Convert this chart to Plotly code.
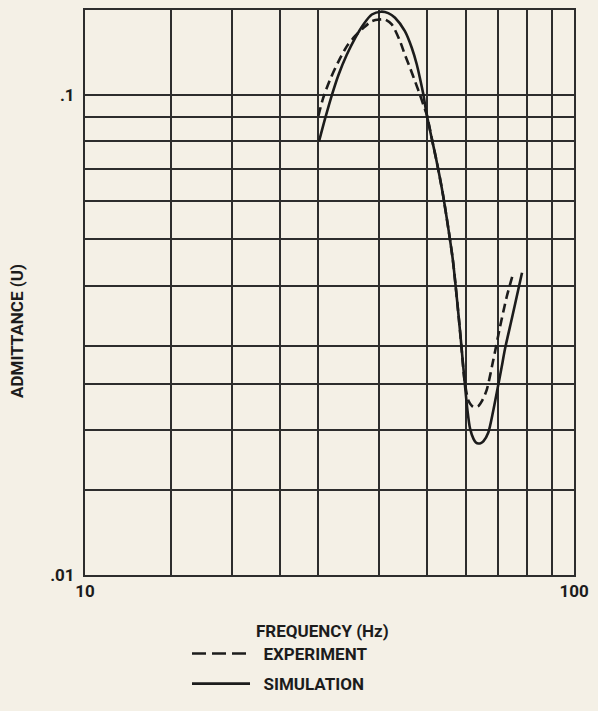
import math
import plotly.graph_objects as go

# Admittance vs. frequency, log-log grid
freq_exp = [30.0, 30.7, 31.7, 33.0, 34.3, 35.65, 37.1, 38.6, 40.0, 41.06, 42.4, 44.1,
            45.1, 46.2, 47.3, 48.4, 49.34, 49.97, 51.24, 52.29, 53.87, 55.39, 56.52,
            57.65, 58.69, 59.70, 60.84, 61.86, 62.75, 63.78, 64.85, 66.30, 68.40,
            70.59, 72.85, 75.15]
admit_exp = [0.0902, 0.0984, 0.1074, 0.1173, 0.126, 0.1323, 0.1377, 0.1422, 0.1433, 0.1433,
             0.140, 0.129, 0.1211, 0.1137, 0.1066, 0.1, 0.0944, 0.091, 0.0806, 0.0732,
             0.0625, 0.0523, 0.0453, 0.0374, 0.0309, 0.0255, 0.02304, 0.02249, 0.02234,
             0.02249, 0.02304, 0.02428, 0.02805, 0.03285, 0.03795, 0.04257]

freq_sim = [30.1, 31.0, 32.0, 33.0, 34.3, 35.65, 37.1, 38.6, 40.3, 41.7, 43.05, 45.1,
            46.6, 47.7, 48.4, 49.2, 49.97, 51.24, 52.29, 53.87, 55.39, 56.52, 57.65,
            58.69, 59.70, 60.53, 61.28, 62.30, 63.0, 63.78, 64.5, 65.31, 66.80, 68.30,
            69.76, 71.09, 72.27, 74.69, 76.83, 78.29]
admit_sim = [0.0799, 0.0894, 0.1, 0.110, 0.121, 0.131, 0.140, 0.1468, 0.1488, 0.1478,
             0.1445, 0.1355, 0.125, 0.1155, 0.1083, 0.1, 0.091, 0.0806, 0.0732, 0.0625,
             0.0523, 0.0453, 0.0374, 0.0309, 0.0255, 0.0221, 0.0202, 0.0192, 0.01888,
             0.01878, 0.01882, 0.0190, 0.0198, 0.02186, 0.02441, 0.02699, 0.02957,
             0.03431, 0.03906, 0.04257]

x_grid = [10, 15, 20, 25, 30, 40, 50, 60, 70, 80, 90, 100]
x_labels = ["10", "", "", "", "", "", "", "", "", "", "", "100"]
y_grid = [0.01, 0.015, 0.02, 0.025, 0.03, 0.04, 0.05, 0.06, 0.07, 0.08, 0.09, 0.1, 0.15]
y_labels = [".01", "", "", "", "", "", "", "", "", "", "", ".1", ""]

PAPER = "#f4f0e6"
INK = "#1c1c1c"
GRID = "#2d2d2d"
FONT = dict(family="Roboto, Liberation Sans, Arial, sans-serif", size=17, color=INK, weight="bold")
NBSP = "\u00a0\u00a0"

fig = go.Figure()
# measured curve (its legend key uses longer dashes, drawn by the entry below)
fig.add_trace(go.Scatter(
    x=freq_exp, y=admit_exp, name="EXPERIMENT", mode="lines", legendgroup="exp",
    showlegend=False,
    line=dict(color=INK, width=2.6, dash="9px,5px", shape="spline", smoothing=0.7),
))
fig.add_trace(go.Scatter(
    x=[None], y=[None], name=NBSP + "EXPERIMENT", mode="lines", legendgroup="exp",
    line=dict(color=INK, width=2.6, dash="14px,6px"),
))
fig.add_trace(go.Scatter(
    x=freq_sim, y=admit_sim, name=NBSP + "SIMULATION", mode="lines", legendgroup="sim",
    line=dict(color=INK, width=2.6, shape="spline", smoothing=0.7),
))

axis_common = dict(
    type="log", showgrid=True, gridcolor=GRID, gridwidth=1.8,
    showline=True, linecolor=GRID, linewidth=2, mirror=True,
    ticks="", zeroline=False, tickmode="array", tickfont=FONT,
)
fig.update_xaxes(range=[1, 2], tickvals=x_grid, ticktext=x_labels, **axis_common)
fig.update_yaxes(range=[-2, math.log10(0.15)], tickvals=y_grid, ticktext=y_labels,
                 ticklabelstandoff=5, **axis_common)

fig.add_annotation(text="FREQUENCY (Hz)", xref="paper", yref="paper",
                   x=0.4847, y=-0.0991, xanchor="center", yanchor="middle",
                   showarrow=False, font=FONT)
fig.add_annotation(text="ADMITTANCE (U)", xref="paper", yref="paper",
                   x=-0.139, y=0.432, xanchor="center", yanchor="middle",
                   textangle=-90, showarrow=False, font=FONT)

fig.update_layout(
    width=598, height=711,
    margin=dict(l=85, r=24, t=10, b=136, autoexpand=False),
    paper_bgcolor=PAPER, plot_bgcolor=PAPER,
    showlegend=True,
    legend=dict(x=0.2086, y=-0.108, xanchor="left", yanchor="top",
                orientation="v", itemwidth=58, font=FONT,
                bgcolor="rgba(0,0,0,0)", tracegroupgap=5),
)

fig.write_html("out.html")
